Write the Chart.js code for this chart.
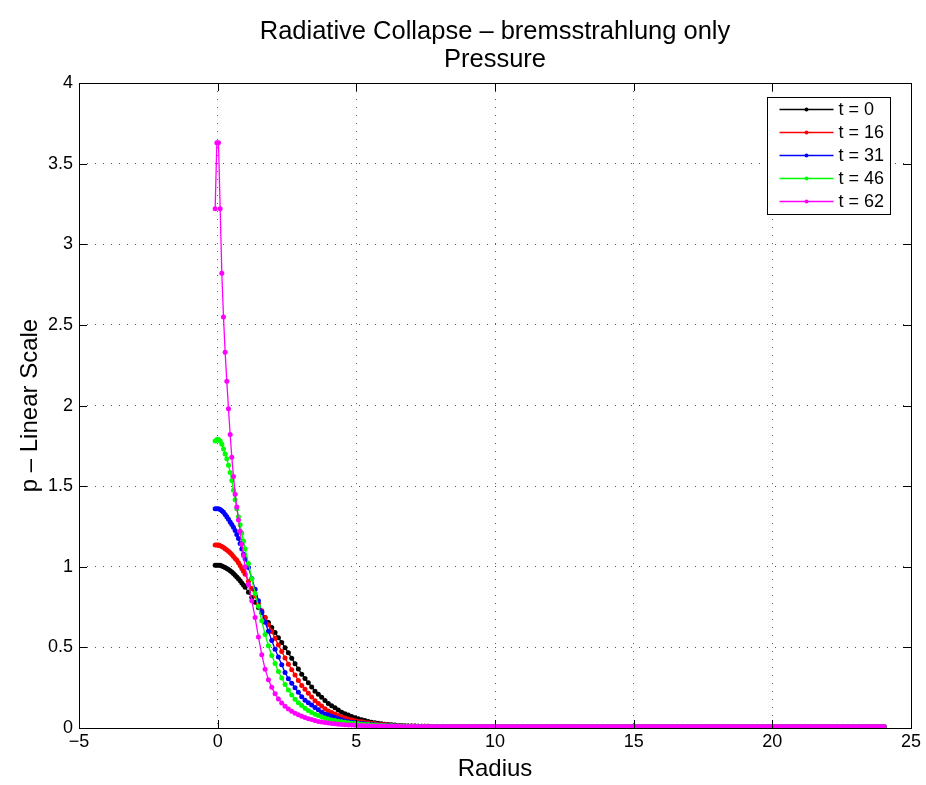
<!DOCTYPE html>
<html>
<head>
<meta charset="utf-8">
<title>Radiative Collapse - Pressure</title>
<script src="https://cdn.jsdelivr.net/npm/chart.js@4.4.1/dist/chart.umd.min.js"></script>
<style>
  html, body { margin: 0; padding: 0; background: #fff; }
  #wrap { width: 926px; height: 785px; }
</style>
</head>
<body>
<div id="wrap"><canvas id="pressureChart" width="926" height="785"></canvas></div>
<script>
// radius grid (ghost cells at negative r, finer near the centre)
const radius = [
  -0.09, -0.03, 0.03, 0.09, 0.15, 0.21, 0.27, 0.33, 0.39, 0.45,
  0.51, 0.57, 0.63, 0.69, 0.75, 0.81, 0.87, 0.93, 0.99,
  1.11, 1.23, 1.35, 1.47, 1.59, 1.71, 1.83, 1.95, 2.07, 2.19,
  2.31, 2.43, 2.55, 2.67, 2.79, 2.91, 3.03, 3.15, 3.27, 3.39,
  3.51, 3.63, 3.75, 3.87, 3.99, 4.11, 4.23, 4.35, 4.47, 4.59,
  4.71, 4.83, 4.95, 5.07, 5.19, 5.31, 5.43, 5.55, 5.67, 5.79,
  5.91, 6.03, 6.15, 6.27, 6.39, 6.51, 6.63, 6.75, 6.87, 6.99,
  7.11, 7.23, 7.35, 7.47, 7.59, 7.71, 7.83, 7.95
];

const p_t0 = [
  1.01, 1.01, 1.01, 1.01, 1.005, 1.0, 0.995, 0.99, 0.983, 0.975,
  0.967, 0.958, 0.948, 0.937, 0.925, 0.913, 0.9, 0.887, 0.873,
  0.842, 0.81, 0.78, 0.748, 0.717, 0.686, 0.654, 0.623, 0.592, 0.56,
  0.53, 0.498, 0.466, 0.432, 0.399, 0.366, 0.334, 0.307, 0.28, 0.254,
  0.228, 0.209, 0.19, 0.171, 0.152, 0.138, 0.125, 0.111, 0.098, 0.089,
  0.08, 0.072, 0.063, 0.057, 0.051, 0.046, 0.04, 0.036, 0.033, 0.03,
  0.026, 0.024, 0.022, 0.02, 0.018, 0.016, 0.015, 0.014, 0.013, 0.012,
  0.012, 0.011, 0.011, 0.011, 0.011, 0.01, 0.01, 0.01
];
const p_t16 = [
  1.135, 1.135, 1.135, 1.13, 1.125, 1.12, 1.112, 1.104, 1.096, 1.087,
  1.076, 1.064, 1.052, 1.04, 1.025, 1.008, 0.99, 0.972, 0.953,
  0.91, 0.865, 0.818, 0.772, 0.727, 0.684, 0.641, 0.598, 0.556, 0.515,
  0.475, 0.434, 0.396, 0.362, 0.328, 0.295, 0.264, 0.24, 0.216, 0.192,
  0.169, 0.152, 0.136, 0.12, 0.106, 0.096, 0.087, 0.078, 0.068, 0.062,
  0.056, 0.051, 0.045, 0.041, 0.038, 0.034, 0.031, 0.028, 0.026, 0.024,
  0.022, 0.02, 0.019, 0.017, 0.016, 0.015, 0.014, 0.013, 0.013, 0.012,
  0.012, 0.011, 0.011, 0.011, 0.011, 0.01, 0.01, 0.01
];
const p_t31 = [
  1.36, 1.36, 1.36, 1.355, 1.348, 1.338, 1.325, 1.31, 1.295, 1.278,
  1.262, 1.245, 1.225, 1.2, 1.175, 1.145, 1.11, 1.078, 1.05,
  0.995, 0.928, 0.86, 0.79, 0.72, 0.656, 0.6, 0.543, 0.488, 0.44,
  0.392, 0.344, 0.305, 0.277, 0.249, 0.221, 0.194, 0.172, 0.157, 0.142,
  0.127, 0.113, 0.098, 0.087, 0.08, 0.073, 0.065, 0.058, 0.051, 0.044,
  0.039, 0.036, 0.033, 0.03, 0.028, 0.026, 0.023, 0.021, 0.02, 0.019,
  0.017, 0.016, 0.015, 0.014, 0.014, 0.013, 0.012, 0.012, 0.011, 0.011,
  0.011, 0.011, 0.01, 0.01, 0.01, 0.01, 0.01, 0.01
];
const p_t46 = [
  1.78, 1.79, 1.79, 1.78, 1.76, 1.73, 1.70, 1.67, 1.63, 1.585,
  1.535, 1.475, 1.415, 1.36, 1.31, 1.26, 1.21, 1.16, 1.11,
  1.02, 0.925, 0.835, 0.755, 0.665, 0.58, 0.51, 0.45, 0.40, 0.35,
  0.31, 0.27, 0.236, 0.205, 0.178, 0.157, 0.14, 0.122, 0.108, 0.096,
  0.086, 0.077, 0.069, 0.062, 0.056, 0.05, 0.046, 0.042, 0.038, 0.035,
  0.032, 0.03, 0.028, 0.026, 0.024, 0.022, 0.021, 0.019, 0.018, 0.017,
  0.016, 0.015, 0.014, 0.014, 0.013, 0.013, 0.012, 0.012, 0.011, 0.011,
  0.011, 0.011, 0.01, 0.01, 0.01, 0.01, 0.01, 0.01
];
const p_t62 = [
  3.22, 3.63, 3.63, 3.22, 2.82, 2.55, 2.33, 2.15, 1.98, 1.82,
  1.68, 1.56, 1.45, 1.37, 1.29, 1.22, 1.14, 1.07, 1.0,
  0.89, 0.79, 0.685, 0.565, 0.455, 0.365, 0.3, 0.252, 0.212, 0.18,
  0.155, 0.135, 0.118, 0.104, 0.092, 0.082, 0.073, 0.065, 0.058, 0.052,
  0.046, 0.041, 0.037, 0.034, 0.031, 0.028, 0.026, 0.024, 0.022, 0.02,
  0.019, 0.018, 0.017, 0.016, 0.015, 0.014, 0.014, 0.013, 0.013, 0.012,
  0.012, 0.012, 0.011, 0.011, 0.011, 0.011, 0.01, 0.01, 0.01, 0.01,
  0.01, 0.01, 0.01, 0.01, 0.01, 0.01, 0.01, 0.01
];

// outer part of the grid, where every profile sits on the same floor
const tailRadius = [
  8.07, 8.19, 8.31, 8.43, 8.55, 8.67, 8.79, 8.91, 9.03, 9.15, 9.27, 9.39, 9.51, 9.63, 9.75, 9.87, 9.99, 10.11, 10.23, 10.35, 10.47, 10.59, 10.71, 10.83, 10.95,
  11.07, 11.19, 11.31, 11.43, 11.55, 11.67, 11.79, 11.91, 12.03, 12.15, 12.27, 12.39, 12.51, 12.63, 12.75, 12.87, 12.99, 13.11, 13.23, 13.35, 13.47, 13.59, 13.71, 13.83, 13.95,
  14.07, 14.19, 14.31, 14.43, 14.55, 14.67, 14.79, 14.91, 15.03, 15.15, 15.27, 15.39, 15.51, 15.63, 15.75, 15.87, 15.99, 16.11, 16.23, 16.35, 16.47, 16.59, 16.71, 16.83, 16.95,
  17.07, 17.19, 17.31, 17.43, 17.55, 17.67, 17.79, 17.91, 18.03, 18.15, 18.27, 18.39, 18.51, 18.63, 18.75, 18.87, 18.99, 19.11, 19.23, 19.35, 19.47, 19.59, 19.71, 19.83, 19.95,
  20.07, 20.19, 20.31, 20.43, 20.55, 20.67, 20.79, 20.91, 21.03, 21.15, 21.27, 21.39, 21.51, 21.63, 21.75, 21.87, 21.99, 22.11, 22.23, 22.35, 22.47, 22.59, 22.71, 22.83, 22.95,
  23.07, 23.19, 23.31, 23.43, 23.55, 23.67, 23.79, 23.91, 24.03
];
const tailPressure = [
  0.01, 0.01, 0.01, 0.01, 0.01, 0.01, 0.01, 0.01, 0.01, 0.01, 0.01, 0.01, 0.01, 0.01, 0.01, 0.01, 0.01, 0.01, 0.01, 0.01, 0.01, 0.01, 0.01, 0.01, 0.01,
  0.01, 0.01, 0.01, 0.01, 0.01, 0.01, 0.01, 0.01, 0.01, 0.01, 0.01, 0.01, 0.01, 0.01, 0.01, 0.01, 0.01, 0.01, 0.01, 0.01, 0.01, 0.01, 0.01, 0.01, 0.01,
  0.01, 0.01, 0.01, 0.01, 0.01, 0.01, 0.01, 0.01, 0.01, 0.01, 0.01, 0.01, 0.01, 0.01, 0.01, 0.01, 0.01, 0.01, 0.01, 0.01, 0.01, 0.01, 0.01, 0.01, 0.01,
  0.01, 0.01, 0.01, 0.01, 0.01, 0.01, 0.01, 0.01, 0.01, 0.01, 0.01, 0.01, 0.01, 0.01, 0.01, 0.01, 0.01, 0.01, 0.01, 0.01, 0.01, 0.01, 0.01, 0.01, 0.01,
  0.01, 0.01, 0.01, 0.01, 0.01, 0.01, 0.01, 0.01, 0.01, 0.01, 0.01, 0.01, 0.01, 0.01, 0.01, 0.01, 0.01, 0.01, 0.01, 0.01, 0.01, 0.01, 0.01, 0.01, 0.01,
  0.01, 0.01, 0.01, 0.01, 0.01, 0.01, 0.01, 0.01, 0.01
];

const seriesLabels = ['t = 0', 't = 16', 't = 31', 't = 46', 't = 62'];
const seriesValues = [p_t0, p_t16, p_t31, p_t46, p_t62];
const seriesColors = ['#000000', '#ff0000', '#0000ff', '#00ff00', '#ff00ff'];

const xTicks = [-5, 0, 5, 10, 15, 20, 25];
const yTicks = [0, 0.5, 1, 1.5, 2, 2.5, 3, 3.5, 4];

function toPoints(vals) {
  const pts = radius.map((r, i) => ({ x: r, y: vals[i] }));
  return pts.concat(tailRadius.map((r, i) => ({ x: r, y: tailPressure[i] })));
}

function minusSign(v) {
  return v < 0 ? '\u2212' + (-v) : String(v);
}

// box round the axes, inward tick marks on all four sides, legend inside
const matlabFrame = {
  id: 'matlabFrame',
  afterDatasetsDraw(chart) {
    const { ctx, chartArea: a, scales } = chart;
    ctx.save();
    ctx.strokeStyle = '#000';
    ctx.lineWidth = 1;
    ctx.beginPath();
    xTicks.forEach(v => {
      const x = Math.round(scales.x.getPixelForValue(v)) + 0.5;
      ctx.moveTo(x, a.bottom); ctx.lineTo(x, a.bottom - 8);
      ctx.moveTo(x, a.top); ctx.lineTo(x, a.top + 8);
    });
    yTicks.forEach(v => {
      const y = Math.round(scales.y.getPixelForValue(v)) + 0.5;
      ctx.moveTo(a.left, y); ctx.lineTo(a.left + 8, y);
      ctx.moveTo(a.right, y); ctx.lineTo(a.right - 8, y);
    });
    ctx.stroke();
    ctx.strokeRect(Math.round(a.left) + 0.5, Math.round(a.top) + 0.5,
      Math.round(a.right - a.left), Math.round(a.bottom - a.top));

    // legend
    const bx = Math.round(a.right) - 144 + 0.5;
    const by = Math.round(a.top) + 14 + 0.5;
    const bw = 123, bh = 117;
    ctx.fillStyle = '#fff';
    ctx.fillRect(bx, by, bw, bh);
    ctx.strokeStyle = '#000';
    ctx.strokeRect(bx, by, bw, bh);
    ctx.font = '18px Helvetica, Arial, "Liberation Sans", sans-serif';
    ctx.textBaseline = 'middle';
    ctx.textAlign = 'left';
    seriesLabels.forEach((lab, i) => {
      const y = by + 12 + i * 23;
      ctx.strokeStyle = seriesColors[i];
      ctx.lineWidth = 1.3;
      ctx.beginPath();
      ctx.moveTo(bx + 12, y); ctx.lineTo(bx + 66, y);
      ctx.stroke();
      ctx.fillStyle = seriesColors[i];
      ctx.beginPath();
      ctx.arc(bx + 39, y, 2, 0, Math.PI * 2);
      ctx.fill();
      ctx.fillStyle = '#000';
      ctx.fillText(lab, bx + 71, y + 1);
    });
    ctx.restore();
  }
};

Chart.defaults.font.family = 'Helvetica, Arial, "Liberation Sans", sans-serif';
Chart.defaults.color = '#000';

const ctx = document.getElementById('pressureChart').getContext('2d');
new Chart(ctx, {
  type: 'line',
  data: {
    datasets: seriesValues.map((vals, i) => ({
      label: seriesLabels[i],
      data: toPoints(vals),
      borderColor: seriesColors[i],
      backgroundColor: seriesColors[i],
      pointBackgroundColor: seriesColors[i],
      borderWidth: 1.3,
      pointRadius: 2.5,
      pointBorderWidth: 0,
      tension: 0,
      fill: false,
      order: seriesValues.length - i
    }))
  },
  options: {
    responsive: false,
    animation: false,
    events: [],
    layout: { padding: { left: 0, right: 15, top: 0, bottom: 0 } },
    scales: {
      x: {
        type: 'linear',
        min: -5,
        max: 25,
        afterBuildTicks: s => { s.ticks = xTicks.map(v => ({ value: v })); },
        afterFit: s => { s.height = 57; },
        ticks: { font: { size: 18 }, padding: 3, maxRotation: 0, callback: v => minusSign(v) },
        grid: { color: '#555', drawTicks: false, lineWidth: 1 },
        border: { display: false, dash: [1, 7] },
        title: { display: true, text: 'Radius', font: { size: 24 }, padding: { top: 0, bottom: 1 } }
      },
      y: {
        type: 'linear',
        min: 0,
        max: 4,
        afterBuildTicks: s => { s.ticks = yTicks.map(v => ({ value: v })); },
        afterFit: s => { s.width = 79; },
        ticks: { font: { size: 18 }, padding: 6, callback: v => String(v) },
        grid: { color: '#555', drawTicks: false, lineWidth: 1 },
        border: { display: false, dash: [1, 7] },
        title: { display: true, text: 'p \u2013 Linear Scale', font: { size: 24 }, padding: { top: 16, bottom: 0 } }
      }
    },
    plugins: {
      legend: { display: false },
      tooltip: { enabled: false },
      title: {
        display: true,
        fullSize: false,
        text: ['Radiative Collapse \u2013 bremsstrahlung only', 'Pressure'],
        font: { size: 25.5, weight: 'normal', lineHeight: 1.1 },
        padding: { top: 18, bottom: 9 }
      }
    }
  },
  plugins: [matlabFrame]
});
</script>
</body>
</html>
